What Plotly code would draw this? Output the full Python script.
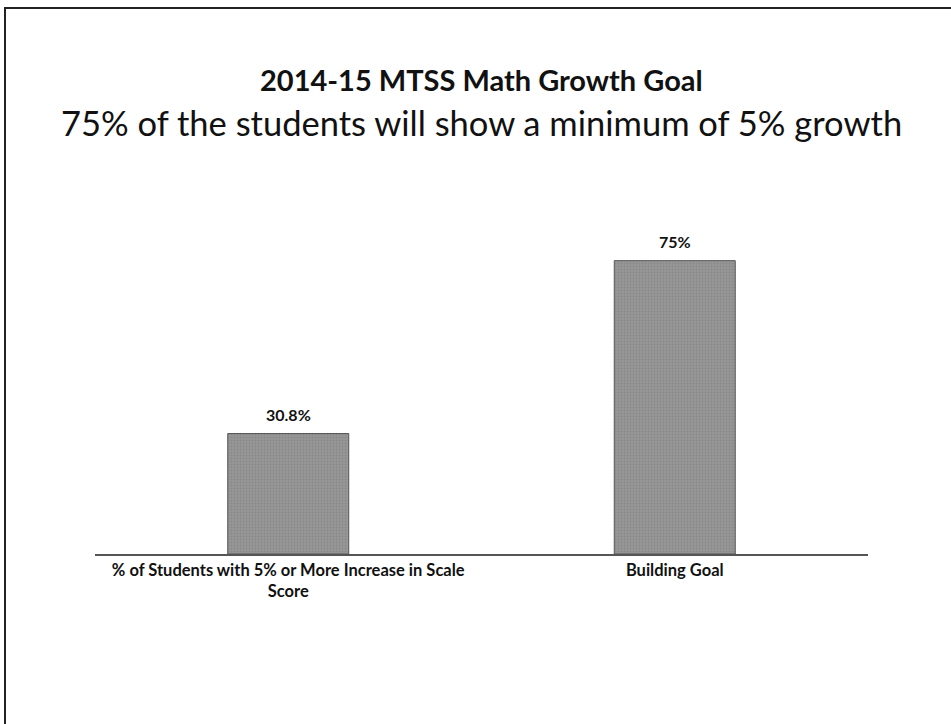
import plotly.graph_objects as go

categories = ["% of Students with 5% or More Increase in Scale<br>Score", "Building Goal"]
values = [30.8, 75]
value_labels = ["30.8%", "75%"]
title_text = "2014-15 MTSS Math Growth Goal"
subtitle_text = "75% of the students will show a minimum of 5% growth"

FONT = "Lato"

fig = go.Figure()
fig.add_trace(go.Bar(
    x=categories,
    y=values,
    width=0.313,
    hoverinfo="skip",
    marker=dict(color="#8d8d8d", line=dict(color="#555555", width=1),
                pattern=dict(shape=".", fgcolor="#777777", bgcolor="#979797", size=3, solidity=0.3)),
))

L, R, T, B = 95, 83, 202, 170
W, H = 951, 724
pw, ph = W - L - R, H - T - B

def px(x):
    return (x - L) / pw

def py(y):
    return (H - B - y) / ph

annotations = [
    dict(text=lab, x=cat, y=val, xref="x", yref="y", showarrow=False,
         yanchor="bottom", yshift=8,
         font=dict(family=FONT, size=16, color="#111111", weight="bold"))
    for cat, val, lab in zip(categories, values, value_labels)
]
annotations += [
    dict(text=title_text, x=0.5, y=py(80), xref="paper", yref="paper",
         showarrow=False, font=dict(family=FONT, size=29, color="#111111", weight="bold"),
         xanchor="center", yanchor="middle"),
    dict(text=subtitle_text, x=0.5, y=py(122), xref="paper", yref="paper",
         showarrow=False, font=dict(family=FONT, size=34.5, color="#111111"),
         xanchor="center", yanchor="middle"),
]

fig.update_layout(
    width=W, height=H,
    margin=dict(l=L, r=R, t=T, b=B),
    paper_bgcolor="white", plot_bgcolor="white",
    showlegend=False,
    xaxis=dict(showline=True, linecolor="#555555", linewidth=1.5, ticks="",
               tickfont=dict(family=FONT, size=16.5, color="#111111", weight="bold"),
               showgrid=False, zeroline=False),
    yaxis=dict(range=[0, 90], visible=False, showgrid=False, zeroline=False),
    annotations=annotations,
    shapes=[
        dict(type="line", xref="paper", yref="paper", x0=px(4), x1=px(951), y0=py(8), y1=py(8),
             line=dict(color="#222222", width=2)),
        dict(type="line", xref="paper", yref="paper", x0=px(5), x1=px(5), y0=py(8), y1=py(724),
             line=dict(color="#222222", width=2)),
    ],
)

fig.write_html("out.html", config={"displayModeBar": False},
               post_script="document.body.style.margin='0';document.body.style.padding='0';")
